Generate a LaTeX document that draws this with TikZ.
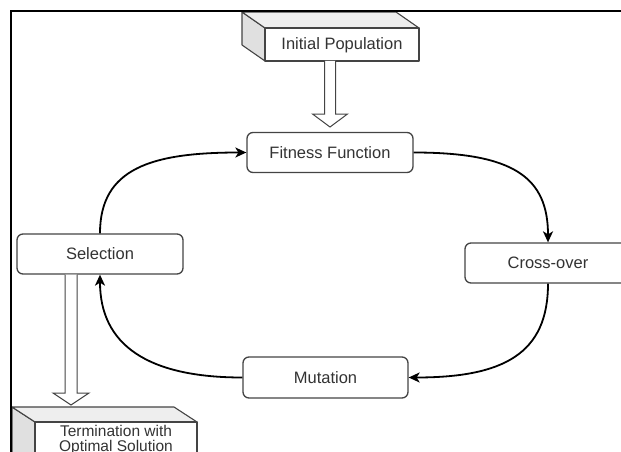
\documentclass[tikz,border=0pt]{standalone}
\usepackage{fontspec}
\setmainfont{Liberation Sans}
\usetikzlibrary{calc,arrows.meta}
\definecolor{txt}{HTML}{333333}
\definecolor{bord}{HTML}{444444}
\definecolor{topf}{HTML}{EEEEEE}
\definecolor{sidef}{HTML}{E0E0E0}
\begin{document}
\begin{tikzpicture}[x=1pt,y=-1pt,
  box/.style={draw=bord, line width=1.3pt, rounded corners=6pt, fill=white,
    minimum width=166pt, minimum height=40pt, inner sep=0pt,
    font=\fontsize{16.5}{18}\selectfont, text=txt},
  lbl/.style={inner sep=0pt, font=\fontsize{16.5}{18}\selectfont, text=txt, align=center},
  face/.style={draw=bord, line width=1.1pt, line join=round},
  flow/.style={line width=1.8pt, draw=black, -{Stealth[length=11pt,width=10pt,inset=3pt]}},
  hollow/.style={draw=bord, line width=1pt, fill=white, line join=miter},
  frame/.style={line width=2.6pt, draw=black}]
\useasboundingbox (0,0) rectangle (621,452);

% Initial Population cube
\draw[face, fill=sidef] (242,12) -- (265,28) -- (265,61) -- (242,45) -- cycle;
\draw[face, fill=topf] (242,12) -- (396,12) -- (419,28) -- (265,28) -- cycle;
\draw[face, fill=white] (265,28) rectangle (419,61);
\node[lbl] (ip) at (342,45) {Initial Population};

% Termination cube
\draw[face, fill=sidef] (12,407) -- (35,422) -- (35,475) -- (12,460) -- cycle;
\draw[face, fill=topf] (12,407) -- (174,407) -- (197,422) -- (35,422) -- cycle;
\draw[face, fill=white] (35,422) rectangle (197,475);
\node[lbl, font=\fontsize{15.5}{15.5}\selectfont] (term) at (116,440) {Termination with\\Optimal Solution};

% Boxes
\node[box] (fit) at (330,152.5) {Fitness Function};
\node[box] (sel) at (100,254) {Selection};
\node[box] (co) at (548,263) {Cross-over};
\node[box, minimum width=165pt, minimum height=41pt] (mut) at (325.5,377.5) {Mutation};

% Hollow arrows
\coordinate (ipa) at (330,61);
\coordinate (ipb) at (330,127);
\draw[hollow] let \p1=(ipa), \p2=(ipb) in
  (\x1-5.5pt,\y1) -- (\x1-5.5pt,\y2+13pt) -- (\x1-17.5pt,\y2+13pt) -- (\x2,\y2)
  -- (\x1+17.5pt,\y2+13pt) -- (\x1+5.5pt,\y2+13pt) -- (\x1+5.5pt,\y1);
\coordinate (sa) at ($(sel.south)+(-29,0)$);
\coordinate (sb) at (71,405);
\draw[hollow] let \p1=(sa), \p2=(sb) in
  (\x1-6pt,\y1) -- (\x1-6pt,\y2+12pt) -- (\x1-18pt,\y2+12pt) -- (\x2,\y2)
  -- (\x1+18pt,\y2+12pt) -- (\x1+6pt,\y2+12pt) -- (\x1+6pt,\y1);

% Cycle connectors
\draw[flow] (fit.east) .. controls +(100,0) and +(0,-65) .. (co.north);
\draw[flow] (co.south) .. controls +(0,70) and +(95,0) .. (mut.east);
\draw[flow] (mut.west) .. controls +(-95,0) and +(0,70) .. (sel.south);
\draw[flow] (sel.north) .. controls +(0,-65) and +(-95,0) .. (fit.west);

% Frame
\draw[frame] (11,452) -- (11,11) -- (621,11);
\end{tikzpicture}
\end{document}
